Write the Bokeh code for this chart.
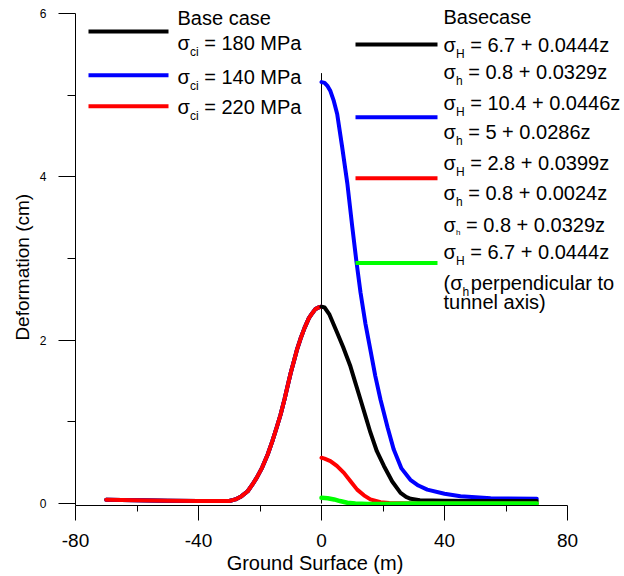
from bokeh.plotting import figure
from bokeh.models import Range1d, FixedTicker, Label
from bokeh.embed import file_html
from bokeh.resources import INLINE

FONT = "Liberation Sans"

# ---------------- data ----------------
# Behind the face (x < 0) the three sigma_ci cases overlap on one curve
left_x = [-70, -60, -50, -40, -30, -28, -26, -24, -22.5, -21, -19.3, -17.5, -16, -14.5,
          -13.3, -12, -11.2, -10, -9, -8, -6.8, -5.5, -4.1, -3, -2, -1, 0]
left_y = [0.045, 0.04, 0.035, 0.03, 0.03, 0.05, 0.09, 0.15, 0.23, 0.32, 0.44, 0.6, 0.76, 0.94,
          1.09, 1.28, 1.41, 1.6, 1.74, 1.88, 2.02, 2.15, 2.27, 2.33, 2.38, 2.40, 2.41]

# Ahead of the face (x >= 0)
base_x = [0, 1, 2.5, 5.1, 7, 9.4, 11, 12.7, 14.3, 15.9, 18, 20.3, 23, 25.7, 27.5, 29, 32,
          40, 50, 60, 70]
base_y = [2.41, 2.40, 2.32, 2.09, 1.92, 1.68, 1.48, 1.27, 1.07, 0.87, 0.64, 0.46, 0.27, 0.13,
          0.08, 0.057, 0.04, 0.035, 0.03, 0.03, 0.03]

hi_x = [0, 1, 2, 2.9, 4, 5.1, 6.7, 8.4, 10, 11.3, 12.7, 14.3, 15.9, 17.5, 19.2, 21.5, 23.5,
        26, 28.9, 31.5, 34.4, 40, 45.2, 55, 70]
hi_y = [5.16, 5.15, 5.11, 5.05, 4.93, 4.77, 4.37, 3.92, 3.39, 2.98, 2.58, 2.2, 1.88, 1.56,
        1.27, 0.93, 0.66, 0.43, 0.29, 0.22, 0.17, 0.12, 0.09, 0.065, 0.057]

lo_x = [0, 1, 2.9, 5, 7.3, 9.5, 11.6, 13.8, 15.9, 19.2, 22, 30, 40, 55, 70]
lo_y = [0.56, 0.55, 0.52, 0.46, 0.375, 0.27, 0.17, 0.1, 0.05, 0.016, 0.005, 0.0, 0.0, 0.0, 0.0]

perp_x = [0, 2, 4.1, 6, 8.4, 11, 15, 20, 30, 45, 70]
perp_y = [0.07, 0.065, 0.05, 0.03, 0.01, 0.0, -0.005, -0.005, 0.0, 0.0, 0.0]

face_x = [0, 0]
face_y = [0, 5.27]

x_ticks = [-80, -40, 0, 40, 80]
x_tick_labels = ["-80", "-40", "0", "40", "80"]
x_minor = [-60, -20, 20, 60]
y_ticks = [0, 2, 4, 6]
y_minor = [1, 3, 5]

X_TITLE = "Ground Surface (m)"
Y_TITLE = "Deformation (cm)"

# ---------------- layout (canvas pixels) ----------------
W, H = 624, 576
FRAME_L, FRAME_R, FRAME_T, FRAME_B = 75, 624, 0, 506
X0_PX, X_SCALE = 321.0, 3.075    # canvas x of data x=0, px per unit
Y0_PX, Y_SCALE = 504.0, 81.83    # canvas y of data y=0, px per unit
EN = "\u2002"                     # invisible en space used to shift centred axis titles


def px2x(px):
    return (px - X0_PX) / X_SCALE


def px2y(py):
    return (Y0_PX - py) / Y_SCALE


p = figure(width=W, height=H,
           x_range=Range1d(px2x(FRAME_L), px2x(FRAME_R)),
           y_range=Range1d(px2y(FRAME_B), px2y(FRAME_T)),
           output_backend="svg", toolbar_location=None,
           min_border_left=FRAME_L, min_border_right=W - FRAME_R,
           min_border_top=FRAME_T, min_border_bottom=H - FRAME_B)
p.outline_line_color = None
p.grid.visible = False
p.background_fill_color = "white"
p.border_fill_color = "white"

p.xaxis.ticker = FixedTicker(ticks=x_ticks, minor_ticks=x_minor)
p.yaxis.ticker = FixedTicker(ticks=y_ticks, minor_ticks=y_minor)
p.xaxis.major_label_overrides = {t: s for t, s in zip(x_ticks, x_tick_labels)}
p.xaxis.bounds = (x_ticks[0], x_ticks[-1])
p.yaxis.bounds = (px2y(FRAME_B), y_ticks[-1])

for ax in (p.xaxis, p.yaxis):
    ax.axis_line_color = "black"
    ax.major_tick_line_color = "black"
    ax.minor_tick_line_color = "black"
    ax.major_tick_in = 0
    ax.minor_tick_in = 0
    ax.major_label_text_font = FONT
    ax.major_label_text_color = "black"
    ax.axis_label_text_font = FONT
    ax.axis_label_text_font_style = "normal"
    ax.axis_label_text_color = "black"

p.xaxis.major_tick_out = 15
p.xaxis.minor_tick_out = 6
p.yaxis.major_tick_out = 17
p.yaxis.minor_tick_out = 8

# trailing en spaces move the visible title to where the reference centres it
p.xaxis.axis_label = X_TITLE + EN * 7
p.xaxis.axis_label_text_font_size = "20px"
p.xaxis.major_label_text_font_size = "19px"
p.xaxis.major_label_standoff = 13
p.xaxis.axis_label_standoff = 2

p.yaxis.axis_label = Y_TITLE + EN * 3
p.yaxis.axis_label_text_font_size = "19px"
p.yaxis.major_label_text_font_size = "12px"
p.yaxis.major_label_standoff = 12
p.yaxis.axis_label_standoff = 4

LW = 4
ROUND = dict(line_join="round", line_cap="round")
p.line(face_x, face_y, line_color="black", line_width=1)
p.line(left_x, left_y, line_color="black", line_width=LW, **ROUND)
p.line(left_x, left_y, line_color="blue", line_width=LW, **ROUND)
p.line(left_x, left_y, line_color="red", line_width=LW, **ROUND)
p.line(hi_x, hi_y, line_color="blue", line_width=LW, **ROUND)
p.line(base_x, base_y, line_color="black", line_width=LW, **ROUND)
p.line(lo_x, lo_y, line_color="red", line_width=LW, **ROUND)
p.line(perp_x, perp_y, line_color="#00ff00", line_width=4.5, **ROUND)

# ---------------- hand-made legends ----------------
MAIN_W = {"σ": 12.4, "(σ": 19.1}
SUB_W = {("ci", 12): 8.7, ("H", 12): 8.7, ("h", 12): 6.7, ("h", 8): 4.5}


def label(xp, yp, text, size):
    p.add_layout(Label(x=px2x(xp), y=px2y(yp), text=text, text_font=FONT,
                       text_font_size=size, text_color="black",
                       text_align="left", text_baseline="middle"))


def entry(xp, yp, main, sub=None, rest=None, sub_size=12, gap=5.6):
    label(xp, yp, main, "20px")
    if sub is None:
        return
    sx = xp + MAIN_W[main]
    label(sx, yp + (8.7 if sub_size == 12 else 7.5), sub, "%dpx" % sub_size)
    label(sx + SUB_W[(sub, sub_size)] + gap, yp, rest, "20px")


def key(x0p, x1p, yp, color):
    p.line([px2x(x0p), px2x(x1p)], [px2y(yp), px2y(yp)], line_color=color, line_width=LW)


# left legend
key(88, 168, 31, "black")
key(88, 168, 75, "blue")
key(88, 168, 106, "red")
entry(177, 18, "Base case")
entry(177, 43, "σ", "ci", "= 180 MPa")
entry(177, 77, "σ", "ci", "= 140 MPa")
entry(177, 107, "σ", "ci", "= 220 MPa")

# right legend
key(355, 437, 44, "black")
key(355, 437, 117, "blue")
key(355, 437, 178, "red")
key(355, 437, 263, "#00ff00")
RX = 443
entry(RX, 17, "Basecase")
entry(RX, 45, "σ", "H", "= 6.7 + 0.0444z")
entry(RX, 72, "σ", "h", "= 0.8 + 0.0329z")
entry(RX, 103, "σ", "H", "= 10.4 + 0.0446z")
entry(RX, 132, "σ", "h", "= 5 + 0.0286z")
entry(RX, 163, "σ", "H", "= 2.8 + 0.0399z")
entry(RX, 193, "σ", "h", "= 0.8 + 0.0024z")
entry(RX, 225, "σ", "h", "= 0.8 + 0.0329z", sub_size=8)
entry(RX, 252, "σ", "H", "= 6.7 + 0.0444z")
entry(RX, 283, "(σ", "h", "perpendicular to", gap=1.5)
entry(RX, 302, "tunnel axis)")

open("out.html", "w").write(file_html(p, INLINE))
